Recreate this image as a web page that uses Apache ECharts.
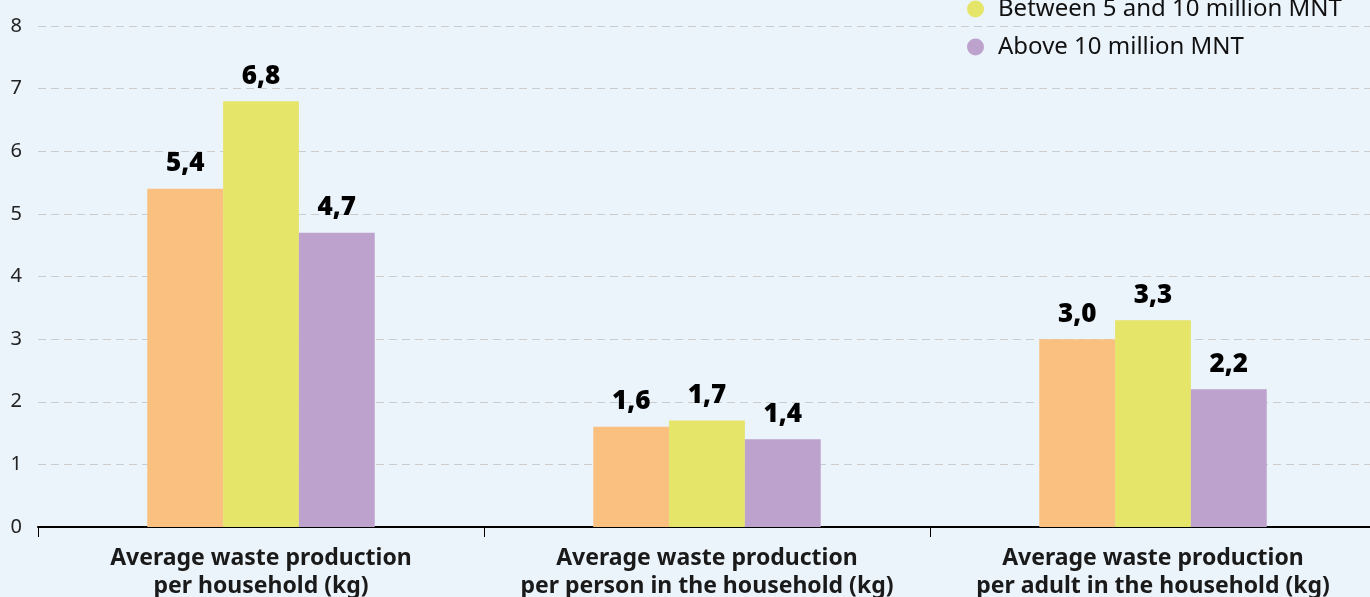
<!DOCTYPE html>
<html>
<head>
<meta charset="utf-8">
<script src="https://cdn.jsdelivr.net/npm/echarts@6/dist/echarts.min.js"></script>
<style>
  html, body { margin: 0; padding: 0; overflow: hidden; }
  #chart { width: 100vw; height: 100vh; }
</style>
</head>
<body>
<div id="chart"></div>
<script>
var categories = [
  'Average waste production\nper household (kg)',
  'Average waste production\nper person in the household (kg)',
  'Average waste production\nper adult in the household (kg)'
];
var seriesNames = ['Below 5 million MNT', 'Between 5 and 10 million MNT', 'Above 10 million MNT'];
var below5 = [5.4, 1.6, 3.0];
var between5and10 = [6.8, 1.7, 3.3];
var above10 = [4.7, 1.4, 2.2];
var colors = ['#F9C080', '#E5E56A', '#BDA2CE'];

var chart = echarts.init(document.getElementById('chart'));

function makeSeries(name, data, color) {
  return {
    name: name,
    type: 'bar',
    data: data,
    barGap: 0,
    barCategoryGap: '49%',
    itemStyle: { color: color },
    label: {
      show: true,
      position: 'top',
      distance: 12,
      fontFamily: 'Noto Sans',
      fontWeight: 900,
      fontSize: 26,
      color: '#000',
      formatter: function (p) { return p.value.toFixed(1).replace('.', ','); }
    }
  };
}

var option = {
  backgroundColor: '#ECF4FB',
  textStyle: { fontFamily: 'Noto Sans' },
  legend: {
    orient: 'vertical',
    left: 962,
    top: -46,
    icon: 'circle',
    itemWidth: 17,
    itemHeight: 17,
    itemGap: 14,
    textStyle: { fontSize: 24, color: '#111', fontFamily: 'Noto Sans', padding: [0, 0, 0, 9] },
    data: seriesNames
  },
  grid: {
    left: 38,
    width: 1338,
    top: 26,
    bottom: 70,
    containLabel: false,
    outerBoundsMode: 'none'
  },
  xAxis: {
    type: 'category',
    data: categories,
    axisLine: { lineStyle: { color: '#000', width: 2 } },
    axisTick: { show: true, interval: 0, length: 10, lineStyle: { color: '#000', width: 1 } },
    axisLabel: {
      interval: 0,
      margin: 17,
      fontSize: 23,
      fontWeight: 'bold',
      color: '#1a1a1a',
      lineHeight: 28,
      fontFamily: 'Noto Sans'
    }
  },
  yAxis: {
    type: 'value',
    min: 0,
    max: 8,
    interval: 1,
    axisLine: { show: false },
    axisTick: { show: false },
    axisLabel: { margin: 16, fontSize: 20, color: '#222', fontFamily: 'Noto Sans' },
    splitLine: { lineStyle: { color: '#cccccc', type: [8, 5], width: 1 } }
  },
  series: [
    makeSeries(seriesNames[0], below5, colors[0]),
    makeSeries(seriesNames[1], between5and10, colors[1]),
    makeSeries(seriesNames[2], above10, colors[2])
  ]
};

chart.setOption(option);
</script>
</body>
</html>
